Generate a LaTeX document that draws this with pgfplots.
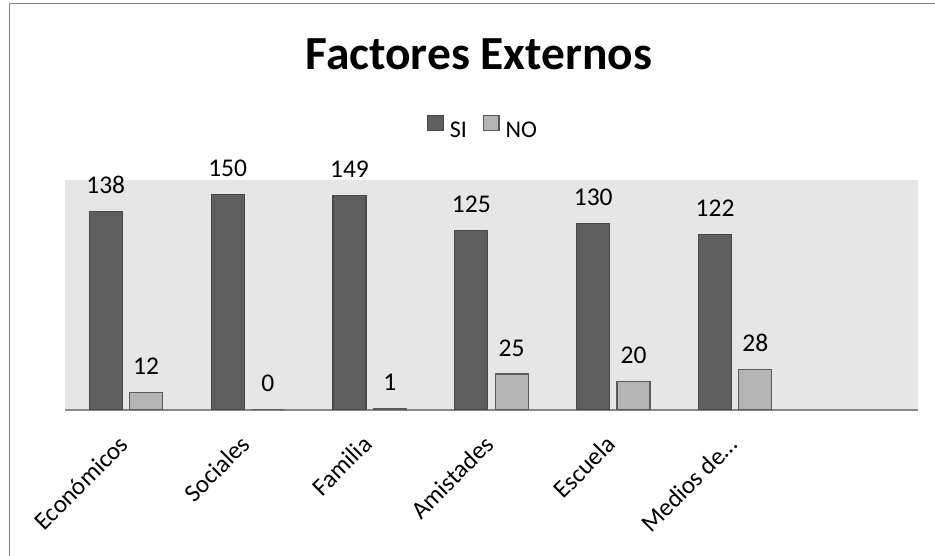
\documentclass[border=0pt]{standalone}
\usepackage{fontspec}
\setmainfont{Carlito}
\usepackage{pgfplots}
\pgfplotsset{compat=1.18}

\definecolor{siFill}{HTML}{5F5F5F}
\definecolor{siLine}{HTML}{474747}
\definecolor{noFill}{HTML}{B4B4B4}
\definecolor{noLine}{HTML}{5A5A5A}
\definecolor{plotBg}{HTML}{E6E6E6}
\definecolor{frameGray}{HTML}{888888}

\newcommand{\lblfont}{\fontsize{25.5}{30}\selectfont}
\newcommand{\tickfont}{\fontsize{25}{29}\selectfont}

\begin{document}
\begin{tikzpicture}
\useasboundingbox (0pt,0pt) rectangle (935pt,556pt);
\draw[frameGray, line width=1.5pt] (9.5pt,0pt) -- (9.5pt,552.5pt) -- (936pt,552.5pt);
\node[font=\fontsize{47.5}{54}\selectfont\bfseries, anchor=base] at (479pt,486.7pt) {Factores Externos};
\begin{axis}[
    at={(65pt,146pt)}, anchor=south west,
    scale only axis, width=853pt, height=230pt,
    ybar=7.3pt, bar width=33pt,
    xmin=-0.5, xmax=6.5, ymin=0, ymax=160,
    axis background/.style={fill=plotBg},
    axis x line*=bottom, axis y line=none,
    x axis line style={draw=frameGray, line width=1.5pt, -},
    xtick={0,...,5},
    xticklabels={Económicos,Sociales,Familia,Amistades,Escuela,Medios de…},
    major tick length=0pt,
    xticklabel style={font=\tickfont, anchor=base east, inner sep=0pt,
        xshift=4pt, yshift=-36pt, rotate=45},
    ytick=\empty,
    nodes near coords,
    nodes near coords style={font=\lblfont, anchor=base, yshift=18pt, text=black},
    /pgf/number format/assume math mode=true,
    legend style={at={(0.489,1.23)}, anchor=center, draw=none, fill=none,
        legend columns=-1, font=\fontsize{24}{28}\selectfont,
        nodes={inner sep=0pt},
        /tikz/every even column/.append style={column sep=16pt},
        /tikz/every odd column/.append style={column sep=6pt}},
]
\addplot[fill=siFill, draw=siLine, line width=1.2pt,
    legend image code/.code={\draw[fill=siFill, draw=siLine, line width=1.2pt] (0pt,0pt) rectangle (15.5pt,15.5pt);}]
    coordinates {(0,138) (1,150) (2,149) (3,125) (4,130) (5,122)};
\addplot[fill=noFill, draw=noLine, line width=1.2pt,
    legend image code/.code={\draw[fill=noFill, draw=noLine, line width=1.2pt] (0pt,0pt) rectangle (15.5pt,15.5pt);}]
    coordinates {(0,12) (1,0) (2,1) (3,25) (4,20) (5,28)};
\legend{SI, NO}
\end{axis}
\end{tikzpicture}
\end{document}
